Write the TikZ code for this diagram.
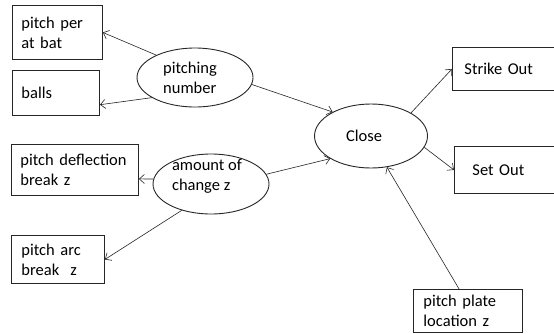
\documentclass[tikz,border=0pt]{standalone}
\usepackage{fontspec}
\setmainfont{Carlito}
\usetikzlibrary{arrows.meta,shapes.geometric}
\hyphenpenalty=10000

\begin{document}
\begin{tikzpicture}[
  x=1pt,y=-1pt,
  >={Straight Barb[length=5pt,width=9pt]},
  box/.style={draw=black!85,line width=0.9pt,rectangle,anchor=north west,
    align=left,inner ysep=0pt,font=\fontsize{16.5}{20}\selectfont},
  oval/.style={draw=black!85,line width=0.9pt,ellipse,inner sep=0pt},
  ovaltext/.style={align=left,inner sep=0pt,font=\fontsize{16.5}{20}\selectfont},
  link/.style={->,line width=0.6pt,black!85}
]
\useasboundingbox (0,0) rectangle (554,333);
\fill[white] (0,0) rectangle (554,333);

% boxes on the left
\node[box,text width=72pt,inner xsep=9pt,minimum height=54pt] (perbat) at (12,5) {pitch per\\at bat};
\node[box,text width=69pt,inner xsep=9pt,minimum height=45pt] (balls) at (12,70) {balls};
\node[box,text width=109pt,inner xsep=9pt,minimum height=51pt] (deflect) at (11,144) {pitch deflection\\break z};
\node[box,text width=73pt,inner xsep=10pt,minimum height=48pt] (arcbreak) at (11,235) {pitch arc\\break\ \ z};

% boxes on the right, running off the page
\node[box,text width=176pt,inner xsep=12pt,minimum height=43pt] (strike) at (452,47) {Strike Out};
\node[box,text width=164pt,inner xsep=18pt,minimum height=47pt] (setout) at (454,146) {Set Out};
\node[box,text width=89pt,inner xsep=10pt,minimum height=43pt] (plate) at (413,289) {pitch plate\\location z};

% ellipses
\node[oval,minimum width=116pt,minimum height=59pt] (pitching) at (195,77.5) {};
\node[ovaltext] (pitchinglbl) at (190,77.5) {pitching\\number};
\node[oval,minimum width=116pt,minimum height=60pt] (amount) at (211,184) {};
\node[ovaltext] (amountlbl) at (207,176) {amount of\\change z};
\node[oval,minimum width=113pt,minimum height=64pt] (close) at (371,136) {};
\node[ovaltext] (closelbl) at (364,136) {Close};

% connectors
\draw[link] (pitching.150) -- (perbat.east);
\draw[link] (pitching.205) -- (balls.-15);
\draw[link] (pitching.-7) -- (close.148);
\draw[link] (amount.175) -- (deflect.-8);
\draw[link] (amount.222) -- (arcbreak.east);
\draw[link] (amount.10) -- (close.209);
\draw[link] (close.30) -- (strike.west);
\draw[link] (close.-12) -- (setout.west);
\draw[link] (plate.112) -- (close.-63);
\end{tikzpicture}
\end{document}
